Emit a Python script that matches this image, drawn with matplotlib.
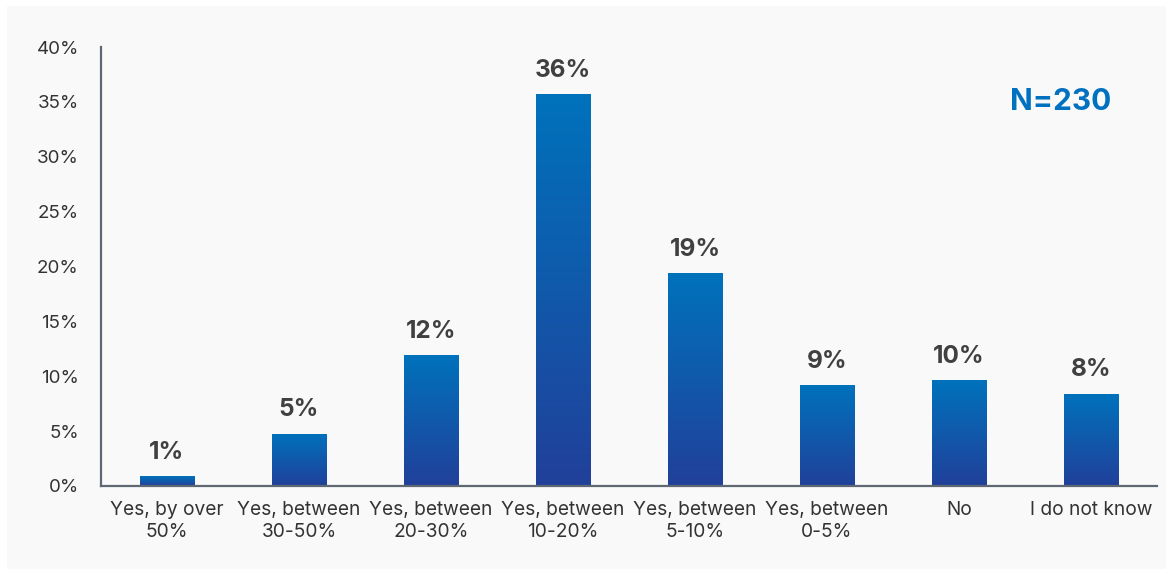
import numpy as np
import matplotlib.pyplot as plt
from matplotlib.patches import Rectangle
from matplotlib.colors import LinearSegmentedColormap

categories = ["Yes, by over\n50%", "Yes, between\n30-50%", "Yes, between\n20-30%",
              "Yes, between\n10-20%", "Yes, between\n5-10%", "Yes, between\n0-5%",
              "No", "I do not know"]
values = [0.9, 4.75, 11.9, 35.7, 19.4, 9.2, 9.65, 8.4]
value_labels = ["1%", "5%", "12%", "36%", "19%", "9%", "10%", "8%"]
yticks = [0, 5, 10, 15, 20, 25, 30, 35, 40]
note = "N=230"

plt.rcParams['font.family'] = ['Inter', 'DejaVu Sans']

fig = plt.figure(figsize=(11.73, 5.75), dpi=100)
fig.patch.set_facecolor('white')
# light grey panel behind the chart
fig.patches.append(Rectangle((7 / 1173, 6 / 575), 1159 / 1173, 563 / 575,
                             transform=fig.transFigure, facecolor='#f9f9f9',
                             edgecolor='none', zorder=-10))

ax = fig.add_axes([101 / 1173, 89 / 575, 1056 / 1173, 439 / 575])
ax.set_zorder(1)
ax.set_facecolor('none')

x = np.arange(len(categories))
bars = ax.bar(x, values, width=0.41, color='none', edgecolor='none', zorder=2)

# vertical gradient inside each bar
cmap = LinearSegmentedColormap.from_list('bar', ['#21409a', '#0072bc'])
grad = np.linspace(0, 1, 256).reshape(-1, 1)
for b in bars:
    x0, w, h = b.get_x(), b.get_width(), b.get_height()
    im = ax.imshow(grad, cmap=cmap, aspect='auto', origin='lower',
                   extent=(x0, x0 + w, 0, h), zorder=2)
    im.set_clip_path(b)

for xi, v, lab in zip(x, values, value_labels):
    ax.annotate(lab, (xi, v), xytext=(0, 9), textcoords='offset points',
                ha='center', va='bottom', fontsize=17.5, fontweight='bold',
                color='#404040')

ax.text(0.909, 0.875, note, transform=ax.transAxes, ha='center', va='center',
        fontsize=21.5, fontweight='bold', color='#0070c0')

ax.set_xlim(-0.5, 7.5)
ax.set_ylim(0, 40)
ax.set_yticks(yticks)
ax.set_yticklabels([f"{t}%" for t in yticks], fontsize=13.5)
ax.set_xticks(x)
ax.set_xticklabels(categories, fontsize=13.8, linespacing=1.25)
ax.tick_params(axis='both', length=0, colors='#333333')
ax.tick_params(axis='y', pad=16)
ax.tick_params(axis='x', pad=11)

for s in ['top', 'right']:
    ax.spines[s].set_visible(False)
for s in ['left', 'bottom']:
    ax.spines[s].set_color('#5f6872')
    ax.spines[s].set_linewidth(1.6)

fig.savefig('out.png', dpi=100)
